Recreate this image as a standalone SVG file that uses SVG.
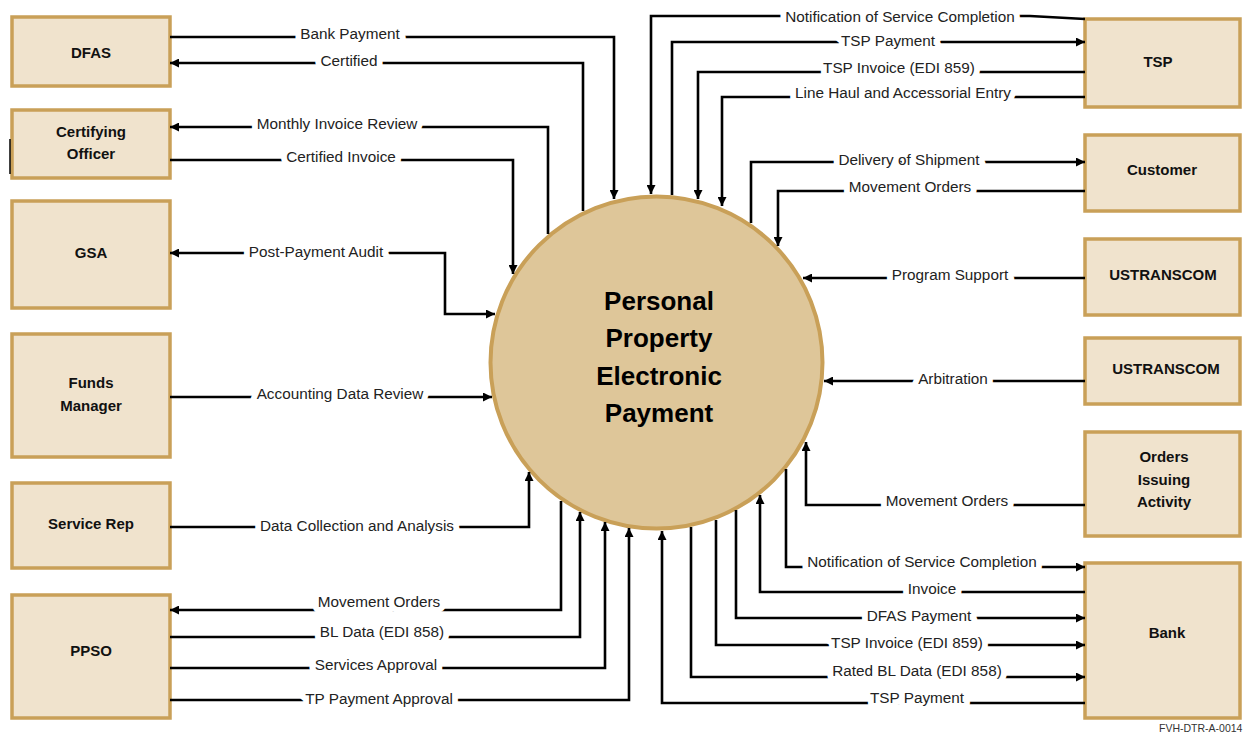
<svg xmlns="http://www.w3.org/2000/svg" width="1243" height="734" viewBox="0 0 1243 734">
<style>
.box{fill:#F0E3CD;stroke:#C9A058;stroke-width:3.5}
.bt{font-family:"Liberation Sans",Arial,sans-serif;font-size:15px;font-weight:bold;fill:#111;text-anchor:middle}
.c{fill:none;stroke:#000;stroke-width:2.6;marker-end:url(#ah)}
.l{font-family:"Liberation Sans",Arial,sans-serif;font-size:15.3px;fill:#222;text-anchor:middle;stroke:#fff;stroke-width:12;stroke-linejoin:round;paint-order:stroke}
.ct{font-family:"Liberation Sans",Arial,sans-serif;font-size:26px;font-weight:bold;fill:#000;text-anchor:middle}
</style>
<defs>
<marker id="ah" viewBox="0 0 10 10" refX="10" refY="5" markerWidth="9" markerHeight="9" markerUnits="userSpaceOnUse" orient="auto-start-reverse">
<path d="M0,0 L10,5 L0,10 z" fill="#000"/>
</marker>
</defs>
<rect width="1243" height="734" fill="#fff"/>

<g id="center">
<circle cx="656.5" cy="362.5" r="166" fill="#DEC699" stroke="#C9A058" stroke-width="4"/>
<text class="ct" x="659" y="310">Personal</text>
<text class="ct" x="659" y="347">Property</text>
<text class="ct" x="659" y="385">Electronic</text>
<text class="ct" x="659" y="422">Payment</text>
</g>

<g id="dfas"><rect class="box" x="12" y="17" width="158" height="69"/><text class="bt" x="91" y="58">DFAS</text></g>
<g id="certifying-officer"><rect class="box" x="12" y="110" width="158" height="68"/><text class="bt" x="91" y="137">Certifying</text><text class="bt" x="91" y="159">Officer</text></g>
<g id="gsa"><rect class="box" x="12" y="201" width="158" height="107"/><text class="bt" x="91" y="258">GSA</text></g>
<g id="funds-manager"><rect class="box" x="12" y="334" width="158" height="123"/><text class="bt" x="91" y="388">Funds</text><text class="bt" x="91" y="411">Manager</text></g>
<g id="service-rep"><rect class="box" x="12" y="483" width="158" height="85"/><text class="bt" x="91" y="529">Service Rep</text></g>
<g id="ppso"><rect class="box" x="12" y="595" width="158" height="123"/><text class="bt" x="91" y="656">PPSO</text></g>

<g id="tsp"><rect class="box" x="1085" y="19" width="155" height="88"/><text class="bt" x="1158" y="67">TSP</text></g>
<g id="customer"><rect class="box" x="1085" y="135" width="155" height="76"/><text class="bt" x="1162" y="175">Customer</text></g>
<g id="ustranscom-1"><rect class="box" x="1085" y="239" width="155" height="76"/><text class="bt" x="1163" y="280">USTRANSCOM</text></g>
<g id="ustranscom-2"><rect class="box" x="1085" y="338" width="155" height="66"/><text class="bt" x="1166" y="374">USTRANSCOM</text></g>
<g id="orders-issuing-activity"><rect class="box" x="1085" y="432" width="155" height="104"/><text class="bt" x="1164" y="462">Orders</text><text class="bt" x="1164" y="485">Issuing</text><text class="bt" x="1164" y="507">Activity</text></g>
<g id="bank"><rect class="box" x="1085" y="563" width="155" height="155"/><text class="bt" x="1167" y="638">Bank</text></g>

<line x1="10" y1="139" x2="10" y2="174" stroke="#000" stroke-width="1.5"/>

<g id="connectors">
<path class="c" d="M170,37 H614 V199"/>
<path class="c" d="M583,211 V63 H170"/>
<path class="c" d="M548,234 V127 H170"/>
<path class="c" d="M170,160 H513 V274"/>
<path class="c" d="M170,253 H445 V314 H495" marker-start="url(#ah)"/>
<path class="c" d="M170,397 H492"/>
<path class="c" d="M170,527 H529 V472"/>
<path class="c" d="M561,501 V610 H170"/>
<path class="c" d="M170,637 H580 V512"/>
<path class="c" d="M170,668 H605 V522"/>
<path class="c" d="M170,700 H629 V528"/>
<path class="c" d="M1085,19 L1030,16 H651 V194"/>
<path class="c" d="M672,195 V42 H1085"/>
<path class="c" d="M1085,72 H698 V199"/>
<path class="c" d="M1085,97 H722 V206"/>
<path class="c" d="M751,223 V162 H1085"/>
<path class="c" d="M1085,191 H778 V246"/>
<path class="c" d="M1085,278 H803"/>
<path class="c" d="M1085,381 H824"/>
<path class="c" d="M1085,505 H806 V442"/>
<path class="c" d="M786,469 V567 H1085"/>
<path class="c" d="M1085,592 H760 V495"/>
<path class="c" d="M736,510 V618 H1085"/>
<path class="c" d="M716,520 V645 H1085"/>
<path class="c" d="M691,527 V677 H1085"/>
<path class="c" d="M1085,703 H662 V531"/>
</g>

<g id="labels">
<text class="l" x="350" y="39">Bank Payment</text>
<text class="l" x="349" y="66">Certified</text>
<text class="l" x="337" y="129">Monthly Invoice Review</text>
<text class="l" x="341" y="162">Certified Invoice</text>
<text class="l" x="316" y="257">Post-Payment Audit</text>
<text class="l" x="340" y="399">Accounting Data Review</text>
<text class="l" x="357" y="531">Data Collection and Analysis</text>
<text class="l" x="379" y="607">Movement Orders</text>
<text class="l" x="382" y="637">BL Data (EDI 858)</text>
<text class="l" x="376" y="670">Services Approval</text>
<text class="l" x="379" y="704">TP Payment Approval</text>
<text class="l" x="900" y="22">Notification of Service Completion</text>
<text class="l" x="888" y="46">TSP Payment</text>
<text class="l" x="899" y="73">TSP Invoice (EDI 859)</text>
<text class="l" x="903" y="98">Line Haul and Accessorial Entry</text>
<text class="l" x="909" y="165">Delivery of Shipment</text>
<text class="l" x="910" y="192">Movement Orders</text>
<text class="l" x="950" y="280">Program Support</text>
<text class="l" x="953" y="384">Arbitration</text>
<text class="l" x="947" y="506">Movement Orders</text>
<text class="l" x="922" y="567">Notification of Service Completion</text>
<text class="l" x="932" y="594">Invoice</text>
<text class="l" x="919" y="621">DFAS Payment</text>
<text class="l" x="907" y="648">TSP Invoice (EDI 859)</text>
<text class="l" x="917" y="676">Rated BL Data (EDI 858)</text>
<text class="l" x="917" y="703">TSP Payment</text>
</g>

<text x="1159" y="732" font-family="Liberation Sans, Arial, sans-serif" font-size="10.5" fill="#333">FVH-DTR-A-0014</text>
</svg>
